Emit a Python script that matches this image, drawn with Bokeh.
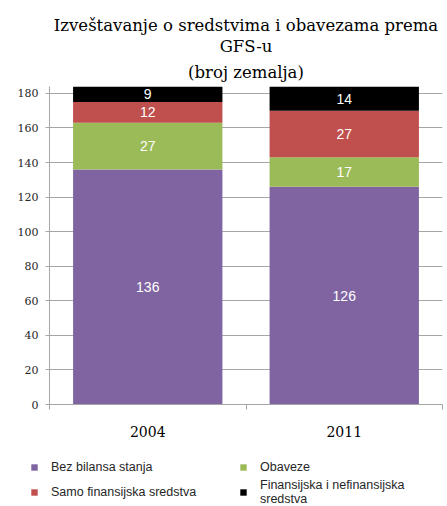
from bokeh.plotting import figure
from bokeh.models import (ColumnDataSource, Range1d, LinearAxis, FixedTicker, Title, Legend)
from bokeh.core.properties import value
from bokeh.embed import file_html
from bokeh.resources import INLINE

years = ["2004", "2011"]
bez_bilansa = [136, 126]
obaveze = [27, 17]
samo_fin = [12, 27]
fin_nefin = [9, 14]
series_keys = ["bez", "oba", "samo", "fin"]
series_labels = ["Bez bilansa stanja", "Obaveze", "Samo finansijska sredstva",
                 "Finansijska i nefinansijska\nsredstva"]
colors = ["#8064A2", "#9BBB59", "#C0504D", "#000000"]
y_ticks = [0, 20, 40, 60, 80, 100, 120, 140, 160, 180]
title_lines = ["Izveštavanje o sredstvima i obavezama prema", "GFS-u", "(broj zemalja)"]
legend_order = [0, 2, 1, 3]

xpos = [i + 0.5 for i in range(len(years))]
source = ColumnDataSource(dict(x=xpos, year=years, bez=bez_bilansa, oba=obaveze,
                               samo=samo_fin, fin=fin_nefin))

SERIF = "DejaVu Serif"

p = figure(x_range=Range1d(0, len(years)), y_range=Range1d(0, 184),
           width=447, height=446, output_backend="svg", toolbar_location=None,
           x_axis_location=None, y_axis_location=None, title=None,
           min_border_left=49, min_border_right=5, min_border_top=86, min_border_bottom=42)
p.outline_line_color = None
p.background_fill_color = "white"
p.border_fill_color = "white"

# title lines, nearest to the frame first
for i, line in enumerate(reversed(title_lines)):
    t = Title(text=line, align="center", text_font=SERIF, text_font_size="16.5px",
              text_font_style="normal", text_color="#000000", text_line_height=1.0,
              standoff=10 if i == 0 else 0)
    p.add_layout(t, "above")

# y axis
yaxis = LinearAxis(ticker=FixedTicker(ticks=y_ticks))
yaxis.axis_line_color = "#a6a6a6"
yaxis.major_tick_line_color = "#a6a6a6"
yaxis.major_tick_out = 4
yaxis.major_tick_in = 0
yaxis.minor_tick_line_color = None
yaxis.major_label_standoff = 7
yaxis.major_label_text_font = SERIF
yaxis.major_label_text_font_size = "11px"
yaxis.major_label_text_color = "#262626"
p.add_layout(yaxis, "left")

p.ygrid.ticker = FixedTicker(ticks=y_ticks)
p.ygrid.grid_line_color = "#a6a6a6"
p.xgrid.grid_line_color = None

# boundary tick axis
taxis = LinearAxis(ticker=FixedTicker(ticks=list(range(len(years) + 1))))
taxis.axis_line_color = "#a6a6a6"
taxis.major_tick_line_color = "#a6a6a6"
taxis.major_tick_out = 5
taxis.major_tick_in = 0
taxis.minor_tick_line_color = None
taxis.major_label_text_font_size = "1px"
taxis.major_label_text_alpha = 0
taxis.major_label_standoff = 0
p.add_layout(taxis, "below")

# category label axis
xaxis = LinearAxis(ticker=FixedTicker(ticks=xpos),
                   major_label_overrides={x: y for x, y in zip(xpos, years)})
xaxis.axis_line_color = None
xaxis.major_tick_line_color = None
xaxis.minor_tick_line_color = None
xaxis.major_label_standoff = 10
xaxis.major_label_text_font = SERIF
xaxis.major_label_text_font_size = "14px"
xaxis.major_label_text_color = "#000000"
p.add_layout(xaxis, "below")

p.vbar_stack(series_keys, x="x", width=0.76, color=colors, line_color=None, source=source)

# value labels
lx, ly, lt = [], [], []
vals = [bez_bilansa, obaveze, samo_fin, fin_nefin]
for i, xv in enumerate(xpos):
    bottom = 0
    for s in vals:
        lx.append(xv)
        ly.append(bottom + s[i] / 2)
        lt.append(str(s[i]))
        bottom += s[i]
p.text(x=lx, y=ly, text=lt, text_align="center", text_baseline="middle",
       text_color="white", text_font=value("Liberation Sans"), text_font_size="14px")

# legend panel (hidden renderers only feed the legend)
lp = figure(width=447, height=60, output_backend="svg", toolbar_location=None,
            x_range=Range1d(0, len(years)), y_range=Range1d(0, 184),
            x_axis_location=None, y_axis_location=None, title=None,
            min_border_left=0, min_border_right=0, min_border_top=0, min_border_bottom=0)
lp.outline_line_color = None
lp.xgrid.grid_line_color = None
lp.ygrid.grid_line_color = None
lp.border_fill_color = "white"
lrs = lp.vbar_stack(series_keys, x="x", width=0.76, color=colors, line_color=None,
                    source=source)
for r in lrs:
    r.visible = False

legend = Legend(items=[(series_labels[k], [lrs[k]]) for k in legend_order],
                location=(30, 0), ncols=2)
legend.border_line_color = None
legend.background_fill_alpha = 0
legend.inactive_fill_alpha = 0
legend.padding = 0
legend.margin = 0
legend.glyph_width = 8
legend.glyph_height = 8
legend.label_standoff = 13
legend.label_width = 184
legend.label_height = 14
legend.spacing = 4
legend.label_text_font = "Liberation Sans"
legend.label_text_font_size = "12.5px"
legend.label_text_color = "#262626"
lp.add_layout(legend, "center")

open("out.html", "w").write(file_html([p, lp], INLINE))
